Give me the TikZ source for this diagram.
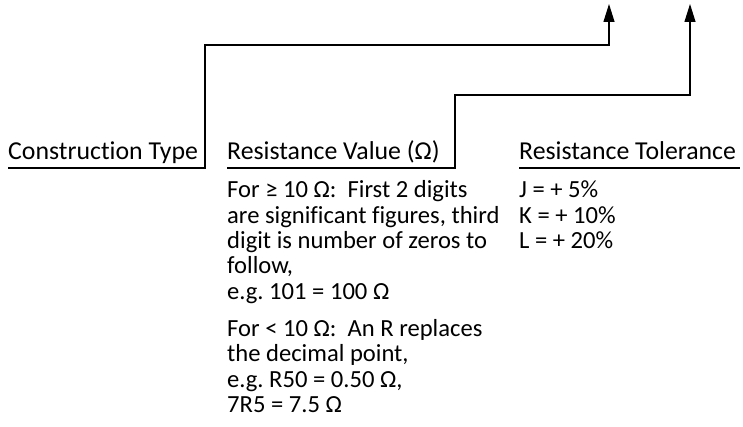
\documentclass[tikz,border=0pt]{standalone}
\usepackage{fontspec}
\setmainfont[Ligatures=NoCommon]{Carlito}
\usetikzlibrary{arrows.meta}
\begin{document}
\frenchspacing
\begin{tikzpicture}[x=1pt,y=-1pt,
  head/.style={anchor=base west, inner sep=0pt, font=\fontsize{25.8}{28}\selectfont\frenchspacing},
  txt/.style={anchor=base west, inner sep=0pt, font=\fontsize{24.6}{27}\selectfont\frenchspacing},
  wire/.style={line width=1.2pt},
  conn/.style={line width=1.2pt, -{Triangle[length=18pt,width=11pt]}}]
\useasboundingbox (0,0) rectangle (743,427);
% headings
\node[head] (ct) at (8,160) {Construction Type};
\node[head] (rv) at (227,160) {Resistance Value (Ω)};
\node[head] (rt) at (519,160) {Resistance Tolerance};
% value body
\node[txt] (v1) at (227,198) {For ≥ 10 Ω:\ \ First 2 digits};
\node[txt] (v2) at (227,223.3) {are significant figures, third};
\node[txt] (v3) at (227,248.6) {digit is number of zeros to};
\node[txt] (v4) at (227,273.9) {follow,};
\node[txt] (v5) at (227,299.2) {e.g. 101 = 100 Ω};
\node[txt] (w1) at (227,336.5) {For < 10 Ω:\ \ An R replaces};
\node[txt] (w2) at (227,361.8) {the decimal point,};
\node[txt] (w3) at (227,387.1) {e.g. R50 = 0.50 Ω,};
\node[txt] (w4) at (227,412.4) {7R5 = 7.5 Ω};
% tolerance body
\node[txt] (t1) at (519,198) {J = + 5\%};
\node[txt] (t2) at (519,223.3) {K = + 10\%};
\node[txt] (t3) at (519,248.6) {L = + 20\%};
% connectors
\coordinate (a0) at (8,168);
\coordinate (a1) at (205,168);
\coordinate (a2) at (205,45);
\coordinate (a3) at (609,45);
\coordinate (a4) at (609,4);
\draw[conn] (a0) -- (a1) -- (a2) -- (a3) -- (a4);
\coordinate (b0) at (227,168);
\coordinate (b1) at (455,168);
\coordinate (b2) at (455,95);
\coordinate (b3) at (690,95);
\coordinate (b4) at (690,4);
\draw[conn] (b0) -- (b1) -- (b2) -- (b3) -- (b4);
\coordinate (c0) at (519,168);
\coordinate (c1) at (740,168);
\draw[wire] (c0) -- (c1);
\end{tikzpicture}
\end{document}
